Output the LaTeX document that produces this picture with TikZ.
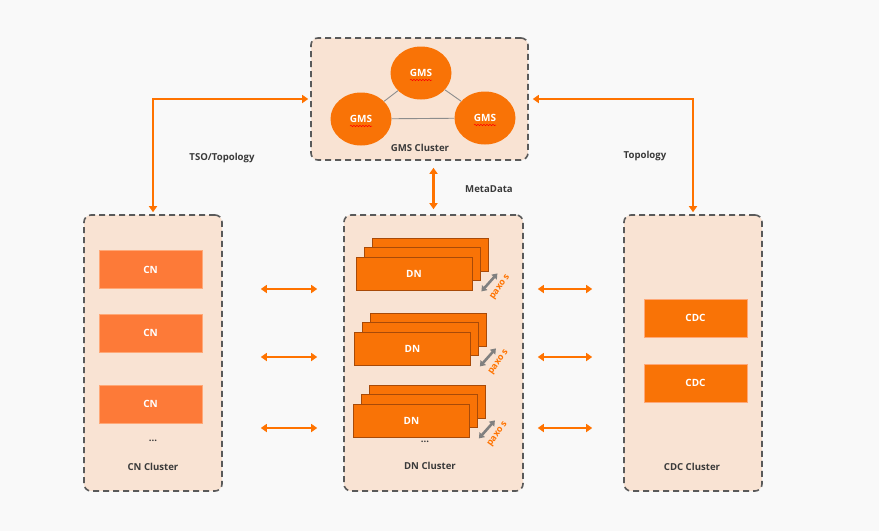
\documentclass[tikz,border=0pt]{standalone}
\usepackage{fontspec}
\setmainfont{Open Sans}
\usetikzlibrary{arrows.meta,decorations.pathmorphing,shapes.geometric}
\definecolor{bgc}{HTML}{F9F9F9}
\definecolor{peach}{HTML}{F9E3D3}
\definecolor{dashc}{HTML}{5A5A5A}
\definecolor{org}{HTML}{F97306}
\definecolor{orgedge}{HTML}{A84A08}
\definecolor{cnorg}{HTML}{FD7A38}
\definecolor{cnedge}{HTML}{FFA877}
\definecolor{arr}{HTML}{FF7300}
\definecolor{txt}{HTML}{3A3A3A}
\definecolor{paxg}{HTML}{808080}
\tikzset{
  cluster/.style={draw=dashc, line width=1.6pt, dash pattern=on 6pt off 4pt, rounded corners=7pt, fill=peach, inner sep=0pt},
  lbl/.style={font=\fontsize{9.6}{11}\selectfont\bfseries, text=txt},
  wlbl/.style={font=\fontsize{10}{12}\selectfont\bfseries, text=white},
  cnbox/.style={draw=cnedge, line width=0.6pt, fill=cnorg, minimum width=103pt, minimum height=38pt, inner sep=0pt, wlbl},
  cdcbox/.style={draw=cnedge, line width=0.6pt, fill=org, minimum width=103pt, minimum height=38pt, inner sep=0pt, wlbl},
  dnbox/.style={draw=orgedge, line width=0.8pt, fill=org, minimum width=116pt, minimum height=33pt, inner sep=0pt, wlbl},
  gmsnode/.style={ellipse, fill=org, minimum width=61pt, minimum height=53pt, inner sep=0pt, wlbl},
  oarr/.style={draw=arr, line width=2.4pt, {Triangle[length=6pt,width=8pt]}-{Triangle[length=6pt,width=8pt]}},
  parr/.style={draw=paxg, line width=2.6pt, {Triangle[length=5pt,width=7pt]}-{Triangle[length=5pt,width=7pt]}},
  paxt/.style={font=\fontsize{9}{10}\selectfont\bfseries, text=arr, rotate=55, inner sep=0pt},
  wavy/.style={draw=red, line width=0.5pt, decorate, decoration={snake, amplitude=0.7pt, segment length=3pt}},
}
\begin{document}
\begin{tikzpicture}[x=1pt,y=-1pt]
\fill[bgc] (0,0) rectangle (879,531);
\useasboundingbox (0,0) rectangle (879,531);

% clusters
\node[cluster, minimum width=217pt, minimum height=122pt] (gms) at (419.5,99) {};
\node[cluster, minimum width=138pt, minimum height=276pt] (cn) at (153,353) {};
\node[cluster, minimum width=179pt, minimum height=276pt] (dn) at (433.5,353) {};
\node[cluster, minimum width=138pt, minimum height=276pt] (cdc) at (693,353) {};

% GMS
\node[gmsnode] (g1) at (421,73) {GMS};
\node[gmsnode] (g2) at (361,119) {GMS};
\node[gmsnode] (g3) at (485,118) {GMS};
\draw[paxg!90, line width=0.9pt] (g1) -- (g2);
\draw[paxg!90, line width=0.9pt] (g1) -- (g3);
\draw[paxg!90, line width=0.9pt] (g2) -- (g3);
\draw[wavy] (410,80) -- (432,80);
\draw[wavy] (350,126) -- (372,126);
\draw[wavy] (474,125) -- (496,125);
\node[lbl] (gmsl) at (420,148) {GMS Cluster};

% CN
\node[cnbox] (cn1) at (150.5,269.5) {CN};
\node[cnbox] (cn2) at (150.5,333) {CN};
\node[cnbox] (cn3) at (150.5,404) {CN};
\node[lbl] (cnd) at (153,441) {...};
\node[lbl] (cnl) at (153,467) {CN Cluster};

% CDC
\node[cdcbox] (cdc1) at (695.5,318) {CDC};
\node[cdcbox] (cdc2) at (695.5,383) {CDC};
\node[lbl] (cdcl) at (692,467) {CDC Cluster};

% DN stacks
\foreach \n/\x/\y in {a/414/273.5, b/412.5/348.5, c/411.5/420.5}{
  \node[dnbox] (dn\n3) at (\x+16,\y-19) {};
  \node[dnbox] (dn\n2) at (\x+8,\y-9.5) {};
  \node[dnbox] (dn\n1) at (\x,\y) {DN};
  \draw[parr] ([shift={(9,1)}]dn\n1.south east) -- ([shift={(25,-17)}]dn\n1.south east);
  \node[paxt] (pax\n) at ([shift={(28,-3)}]dn\n1.south east) {paxo s};
}
\node[lbl] (dnd) at (425,442) {...};
\node[lbl] (dnl) at (430,466) {DN Cluster};

% top connectors
\draw[oarr, shorten <=2pt, shorten >=2pt] (cn.north) |- (gms.west);
\draw[oarr, shorten <=4pt, shorten >=2pt] (gms.east) -| (cdc.north);
\draw[oarr, shorten <=7pt, shorten >=5pt] (dn.north |- gms.south) -- (dn.north);
\node[lbl] (tso) at (222,158) {TSO/Topology};
\node[lbl] (topo) at (645,156) {Topology};
\node[lbl] (meta) at (489,189) {MetaData};

% horizontal connectors
\foreach \yy in {289,357,428}{
  \draw[oarr, shorten <=38pt, shorten >=26pt] (cn.east |- 0,\yy) -- (dn.west |- 0,\yy);
  \draw[oarr, shorten <=14pt, shorten >=31pt] (dn.east |- 0,\yy) -- (cdc.west |- 0,\yy);
}
\end{tikzpicture}
\end{document}
